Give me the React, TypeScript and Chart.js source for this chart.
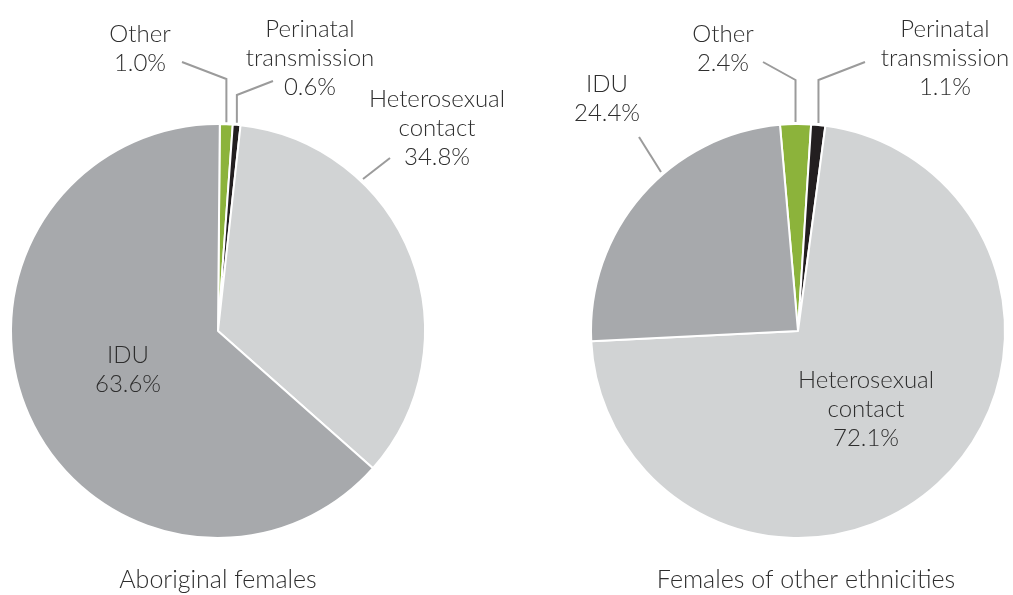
import React, { useEffect, useRef } from "react";
import { Chart, registerables } from "chart.js";

Chart.register(...registerables);

// ---- Data ----
const categories = ["Other", "Perinatal transmission", "Heterosexual contact", "IDU"];
const aboriginalValues = [1.0, 0.6, 34.8, 63.6];
const otherEthnicityValues = [2.4, 1.1, 72.1, 24.4];
const chartTitles = ["Aboriginal females", "Females of other ethnicities"];
const sliceColors = ["#8cb33b", "#231f20", "#d1d3d4", "#a7a9ac"];

const W = 1013;
const H = 595;
const FONT = '300 24px Lato, "Noto Sans", sans-serif';
const TITLE_FONT = '300 25px Lato, "Noto Sans", sans-serif';
const TEXT_COLOR = "#2e2e2e";
const LEADER_COLOR = "#9b9b9b";
const LINE_GAP = 29;

type LabelSpec = {
  index: number;
  x: number;
  y: number; // first baseline
  leader?: { kind: "top"; start: [number, number]; elbowY: number } | { kind: "line"; points: [number, number][] };
};

type PieSpec = {
  values: number[];
  rotation: number;
  padding: { left: number; right: number; top: number; bottom: number };
  title: string;
  titleX: number;
  labels: LabelSpec[];
};

const pies: PieSpec[] = [
  {
    values: aboriginalValues,
    rotation: 0.5,
    padding: { left: 10, right: 587, top: 123, bottom: 56 },
    title: chartTitles[0],
    titleX: 218,
    labels: [
      { index: 0, x: 140, y: 42, leader: { kind: "top", start: [182, 62], elbowY: 79 } },
      { index: 1, x: 310, y: 37, leader: { kind: "top", start: [273, 81], elbowY: 95 } },
      { index: 2, x: 437, y: 107, leader: { kind: "line", points: [[390, 158], [363, 179]] } },
      { index: 3, x: 128, y: 363 },
    ],
  },
  {
    values: otherEthnicityValues,
    rotation: -5,
    padding: { left: 590, right: 7, top: 123, bottom: 56 },
    title: chartTitles[1],
    titleX: 806,
    labels: [
      { index: 0, x: 723, y: 42, leader: { kind: "top", start: [763, 62], elbowY: 80 } },
      { index: 1, x: 945, y: 37, leader: { kind: "top", start: [865, 62], elbowY: 80 } },
      { index: 2, x: 866, y: 388 },
      { index: 3, x: 607, y: 92, leader: { kind: "line", points: [[639, 137], [661, 172]] } },
    ],
  },
];

function labelLines(index: number, values: number[]): string[] {
  return [...categories[index].split(" "), values[index].toFixed(1) + "%"];
}

function makeLabelPlugin(spec: PieSpec) {
  return {
    id: "pieLabels",
    afterDraw(chart: any) {
      const ctx = chart.ctx as CanvasRenderingContext2D;
      const arcs = chart.getDatasetMeta(0).data;
      ctx.save();
      // leader lines
      ctx.strokeStyle = LEADER_COLOR;
      ctx.lineWidth = 2;
      ctx.lineJoin = "miter";
      for (const lab of spec.labels) {
        if (!lab.leader) continue;
        ctx.beginPath();
        if (lab.leader.kind === "top") {
          const arc = arcs[lab.index];
          const p = arc.getProps(["x", "y", "startAngle", "endAngle", "outerRadius"], true);
          const mid = (p.startAngle + p.endAngle) / 2;
          const ex = p.x + Math.cos(mid) * (p.outerRadius + 2);
          const ey = p.y + Math.sin(mid) * (p.outerRadius + 2);
          ctx.moveTo(lab.leader.start[0], lab.leader.start[1]);
          ctx.lineTo(ex, lab.leader.elbowY);
          ctx.lineTo(ex, ey);
        } else {
          const pts = lab.leader.points;
          ctx.moveTo(pts[0][0], pts[0][1]);
          for (let i = 1; i < pts.length; i++) ctx.lineTo(pts[i][0], pts[i][1]);
        }
        ctx.stroke();
      }
      // texts
      ctx.font = FONT;
      ctx.fillStyle = TEXT_COLOR;
      ctx.textAlign = "center";
      ctx.textBaseline = "alphabetic";
      for (const lab of spec.labels) {
        const lines = labelLines(lab.index, spec.values);
        lines.forEach((t, i) => ctx.fillText(t, lab.x, lab.y + i * LINE_GAP));
      }
      ctx.font = TITLE_FONT;
      ctx.fillText(spec.title, spec.titleX, 588);
      ctx.restore();
    },
  };
}

function PieCanvas({ spec }: { spec: PieSpec }) {
  const ref = useRef<HTMLCanvasElement | null>(null);
  useEffect(() => {
    if (!ref.current) return;
    const chart = new Chart(ref.current, {
      type: "pie",
      data: {
        labels: categories,
        datasets: [
          {
            data: spec.values,
            backgroundColor: sliceColors,
            borderColor: "#ffffff",
            borderWidth: 2,
            hoverOffset: 0,
          },
        ],
      },
      options: {
        responsive: false,
        animation: false,
        events: [],
        rotation: spec.rotation,
        layout: { padding: spec.padding },
        plugins: {
          legend: { display: false },
          tooltip: { enabled: false },
        },
      },
      plugins: [makeLabelPlugin(spec)],
    } as any);
    return () => chart.destroy();
  }, [spec]);
  return (
    <canvas
      ref={ref}
      width={W}
      height={H}
      style={{ position: "absolute", left: 0, top: 0, width: W, height: H }}
    />
  );
}

export default function App() {
  return (
    <div style={{ position: "fixed", left: 0, top: 0, width: W, height: H, background: "#ffffff" }}>
      {pies.map((p, i) => (
        <PieCanvas key={i} spec={p} />
      ))}
    </div>
  );
}
